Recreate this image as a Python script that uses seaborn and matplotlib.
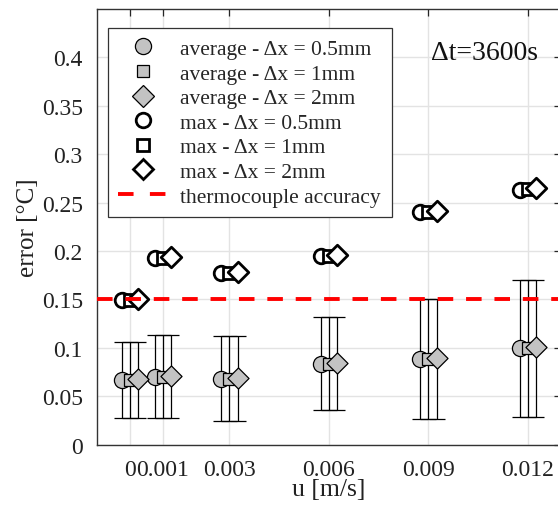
import numpy as np
import pandas as pd
import matplotlib
matplotlib.use("Agg")
import matplotlib.pyplot as plt
import seaborn as sns

# ---- data ----
u = [0.0, 0.001, 0.003, 0.006, 0.009, 0.012]
u_ticks = [0.0, 0.001, 0.003, 0.006, 0.009, 0.012]
u_ticklabels = ["0", "0.001", "0.003", "0.006", "0.009", "0.012"]
y_ticks = [0, 0.05, 0.1, 0.15, 0.2, 0.25, 0.3, 0.35, 0.4]
y_ticklabels = ["0", "0.05", "0.1", "0.15", "0.2", "0.25", "0.3", "0.35", "0.4"]

avg_05 = [0.067, 0.070, 0.068, 0.083, 0.089, 0.100]
avg_1 = [0.067, 0.070, 0.068, 0.083, 0.089, 0.100]
avg_2 = [0.068, 0.071, 0.069, 0.084, 0.090, 0.101]
err_low = [0.028, 0.028, 0.024, 0.036, 0.027, 0.029]
err_high = [0.106, 0.113, 0.112, 0.132, 0.150, 0.170]

max_05 = [0.149, 0.193, 0.177, 0.195, 0.240, 0.263]
max_1 = [0.149, 0.193, 0.177, 0.195, 0.240, 0.264]
max_2 = [0.150, 0.194, 0.178, 0.196, 0.241, 0.265]

accuracy = 0.15
offsets = [-0.00025, 0.0, 0.00025]

sns.set_theme(style="white")
plt.rcParams["font.family"] = ["Liberation Serif", "DejaVu Serif"]
plt.rcParams["mathtext.fontset"] = "stix"

fig = plt.figure(figsize=(5.58, 5.06), dpi=100)
W, H = 558, 506
ax = fig.add_axes([96.7 / W, 1 - 445.7 / H, (561 - 96.7) / W, (445.7 - 10) / H])

gray = "#c3c3c3"
avg_series = [avg_05, avg_1, avg_2]
max_series = [max_05, max_1, max_2]
avg_markers = ["o", "s", "D"]
avg_sizes = [135, 70, 115]
max_sizes = [110, 70, 110]
avg_labels = ["average - \u0394x = 0.5mm", "average - \u0394x = 1mm", "average - \u0394x = 2mm"]
max_labels = ["max - \u0394x = 0.5mm", "max - \u0394x = 1mm", "max - \u0394x = 2mm"]

handles = []
# error bars
for vals, off in zip(avg_series, offsets):
    x = np.array(u) + off
    v = np.array(vals)
    yerr = np.vstack([v - np.array(err_low), np.array(err_high) - v])
    ax.errorbar(x, v, yerr=yerr, fmt="none", ecolor="black", elinewidth=0.9,
                capsize=6, capthick=0.9, zorder=2)

# average markers
for vals, off, m, s, lab in zip(avg_series, offsets, avg_markers, avg_sizes, avg_labels):
    df = pd.DataFrame({"u": np.array(u) + off, "err": vals})
    sns.scatterplot(data=df, x="u", y="err", marker=m, s=s, color=gray,
                    edgecolor="black", linewidth=0.9, ax=ax, zorder=3, legend=False)
    handles.append(plt.Line2D([], [], linestyle="none", marker=m, markersize=np.sqrt(s),
                              markerfacecolor=gray, markeredgecolor="black",
                              markeredgewidth=0.9, label=lab))

# max markers
for vals, off, m, s, lab in zip(max_series, offsets, avg_markers, max_sizes, max_labels):
    df = pd.DataFrame({"u": np.array(u) + off, "err": vals})
    sns.scatterplot(data=df, x="u", y="err", marker=m, s=s, color="white",
                    edgecolor="black", linewidth=2.0, ax=ax, zorder=4, legend=False)
    handles.append(plt.Line2D([], [], linestyle="none", marker=m, markersize=np.sqrt(s),
                              markerfacecolor="white", markeredgecolor="black",
                              markeredgewidth=2.0, label=lab))

ax.axhline(accuracy, color="#ff0000", lw=2.8, dashes=(4, 3.3), zorder=5)
handles.append(plt.Line2D([], [], color="#ff0000", lw=2.8, dashes=(4, 4.2),
                          label="thermocouple accuracy"))

ax.set_xlim(-0.001, 0.013)
ax.set_ylim(0, 0.45)
ax.set_xticks(u_ticks)
ax.set_xticklabels(u_ticklabels)
ax.set_yticks(y_ticks)
ax.set_yticklabels(y_ticklabels)
ax.tick_params(axis="both", direction="in", length=5, width=0.9, colors="#262626",
               labelsize=17, labelcolor="#222222", top=True, right=True)
ax.tick_params(axis="x", pad=10)
ax.tick_params(axis="y", pad=10)
ax.grid(True, color="#e3e3e3", lw=1.0, zorder=0)
ax.set_axisbelow(True)
for sp in ax.spines.values():
    sp.set_color("#333333")
    sp.set_linewidth(1.0)

ax.set_xlabel("u [m/s]", fontsize=18.5, labelpad=-1, color="#222222")
ax.set_ylabel("error [\u00b0C]", fontsize=18, labelpad=2, color="#222222")

leg = ax.legend(handles=handles, loc="upper left", bbox_to_anchor=(0.0237, 0.956),
                borderaxespad=0, fontsize=15.5, frameon=True, fancybox=False,
                edgecolor="#333333", labelspacing=0.21, handlelength=2.3,
                handletextpad=0.58, borderpad=0.5, framealpha=1)
leg.get_frame().set_linewidth(0.9)

ax.text(0.72, 0.9, "\u0394t=3600s", transform=ax.transAxes, fontsize=20,
        ha="left", va="center", color="#111111")

fig.savefig("out.png", dpi=100)
